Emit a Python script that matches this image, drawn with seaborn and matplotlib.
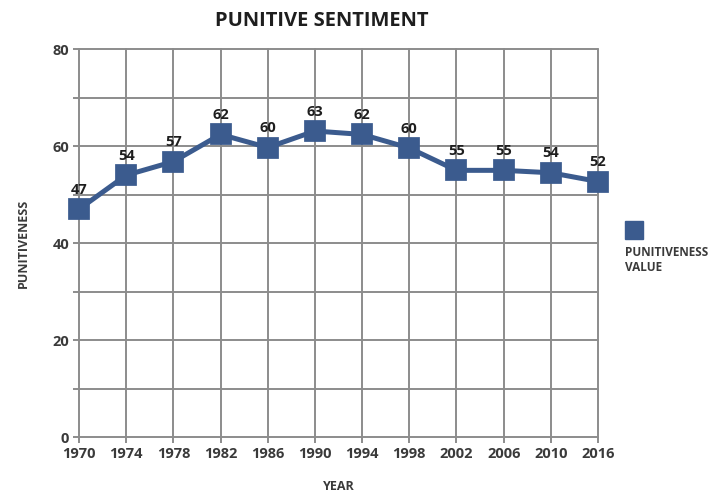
import matplotlib
matplotlib.use("Agg")
import matplotlib.pyplot as plt
import seaborn as sns
import pandas as pd
from matplotlib.lines import Line2D

years = ["1970", "1974", "1978", "1982", "1986", "1990", "1994", "1998", "2002", "2006", "2010", "2016"]
values = [47.0, 54.0, 56.8, 62.4, 59.7, 63.1, 62.4, 59.6, 55.0, 55.0, 54.5, 52.7]
value_labels = ["47", "54", "57", "62", "60", "63", "62", "60", "55", "55", "54", "52"]
y_ticks = [0, 10, 20, 30, 40, 50, 60, 70, 80]
y_tick_labels = ["0", "", "20", "", "40", "", "60", "", "80"]

title = "PUNITIVE SENTIMENT"
x_title = "YEAR"
y_title = "PUNITIVENESS"
series_name = "PUNITIVENESS\nVALUE"

df = pd.DataFrame({"year": years, "value": values})

sns.set_theme(style="white")
plt.rcParams["font.family"] = ["Open Sans", "DejaVu Sans"]

LINE = "#3b5b8e"
GRID = "#8c8c8c"
TXT = "#3a3a3a"

fig = plt.figure(figsize=(7.2, 4.94), dpi=100)
ax = fig.add_axes([0.1097, 0.1148, 0.7209, 0.786])

sns.pointplot(data=df, x="year", y="value", color=LINE, markers="s",
              markersize=13, linewidth=3.6, ax=ax, errorbar=None)
for art in ax.lines + ax.collections:
    art.set_clip_on(False)
    art.set_zorder(5)

ax.set_xlim(0, len(years) - 1)
ax.set_ylim(0, 80)
ax.set_yticks(y_ticks)
ax.set_yticklabels(y_tick_labels)
ax.set_xticks(range(len(years)))
ax.set_xticklabels(years)

ax.grid(False)
for yv in y_ticks:
    ax.axhline(yv, color=GRID, linewidth=1.4, zorder=1, clip_on=False)
for xi in range(len(years)):
    ax.axvline(xi, color=GRID, linewidth=1.4, zorder=1, clip_on=False)
for s in ["top", "right", "left", "bottom"]:
    ax.spines[s].set_visible(False)

ax.tick_params(axis="both", which="major", length=4, width=1.4, color=GRID,
               labelsize=10.5, labelcolor=TXT, pad=3, left=True, bottom=True)
for lab in ax.get_xticklabels() + ax.get_yticklabels():
    lab.set_fontweight("bold")

for i, (v, t) in enumerate(zip(values, value_labels)):
    ax.annotate(t, (i, v), xytext=(0, 9), textcoords="offset points",
                ha="center", va="bottom", fontsize=10.5, fontweight="bold",
                color="#1e1e1e", zorder=6)

ax.set_xlabel(x_title, fontsize=9, fontweight="bold", color=TXT, labelpad=14)
ax.set_ylabel(y_title, fontsize=9, fontweight="bold", color=TXT, labelpad=16)
fig.suptitle(title, x=0.447, y=0.978, fontsize=14.5, fontweight="bold", color="#1e1e1e")

handle = Line2D([], [], color=LINE, marker="s", markersize=13, linestyle="None")
leg = ax.legend([handle], [""], loc="center", bbox_to_anchor=(1.069, 0.529),
                frameon=False, handlelength=1.0, handletextpad=0, borderpad=0,
                borderaxespad=0)
fig.text(0.868, 0.503, series_name, fontsize=8.5, fontweight="bold",
         color=TXT, ha="left", va="top", linespacing=1.2)

fig.savefig("out.png", dpi=100)
